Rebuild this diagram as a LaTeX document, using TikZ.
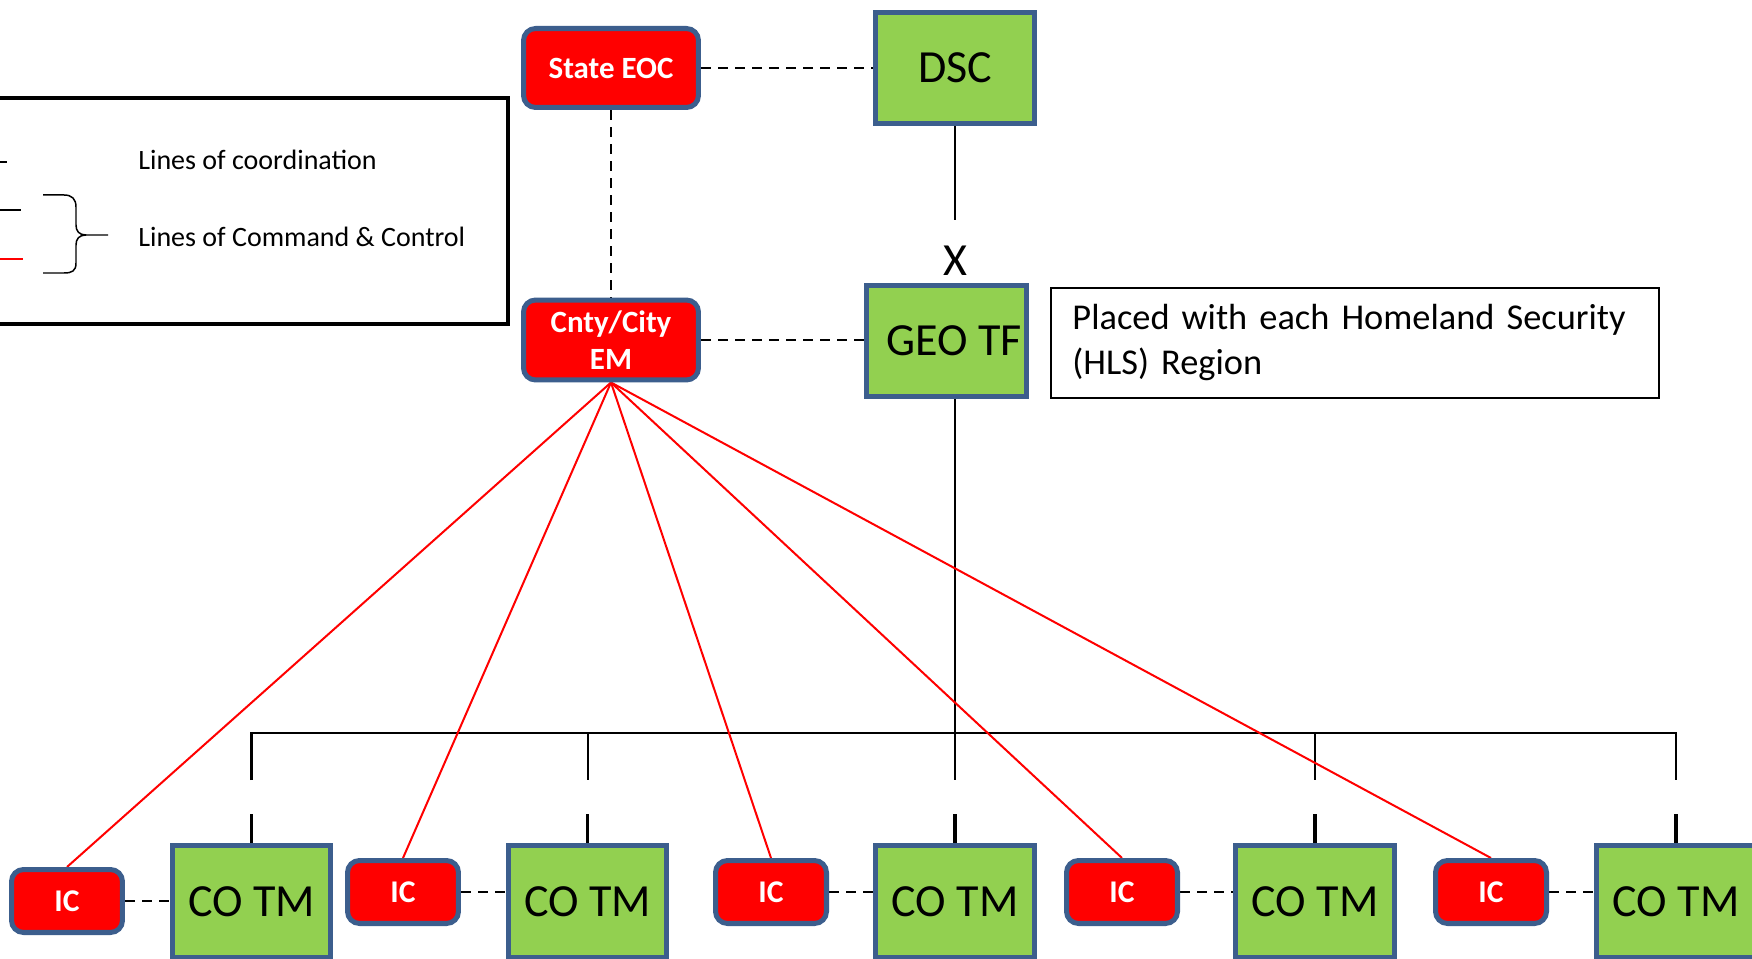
\documentclass[tikz,border=0pt]{standalone}
\usepackage{fontspec}
\setmainfont{Carlito}
\usetikzlibrary{backgrounds,calc}
\definecolor{boxred}{HTML}{FF0000}
\definecolor{boxgreen}{HTML}{92D050}
\definecolor{boxedge}{HTML}{3C5E8D}
\begin{document}
\begin{tikzpicture}[x=0.02cm, y=-0.02cm,
  redbox/.style={draw=boxedge, line width=2.85pt, fill=boxred, rounded corners=0.24cm, text=white, font=\bfseries\fontsize{17.6}{21}\selectfont, inner sep=0pt, align=center},
  greenbox/.style={draw=boxedge, line width=2.85pt, fill=boxgreen, inner sep=0pt, font=\fontsize{26.2}{32}\selectfont, minimum width=3.18cm, minimum height=2.24cm},
  icbox/.style={redbox, minimum width=2.22cm, minimum height=1.26cm, font=\bfseries\fontsize{18}{21}\selectfont},
  coordline/.style={dash pattern=on 5.7pt off 4pt, line width=1.42pt},
  cmdline/.style={line width=1.14pt},
  redcmd/.style={draw=red, line width=1.14pt},
  stubline/.style={line width=2pt},
]
\path[use as bounding box] (0,0) rectangle (1752,959);

% top nodes
\node[redbox, minimum width=3.5cm, minimum height=1.58cm] (eoc) at (611,68) {State EOC};
\node[redbox, minimum width=3.5cm, minimum height=1.6cm] (em) at (611,340) {Cnty/City\\EM};
\node[greenbox] (dsc) at (955,68) {DSC};
\node[greenbox, minimum width=3.2cm] (geo) at (946.5,341) {\hspace*{0.3cm}GEO TF};
\node[font=\fontsize{26.2}{32}\selectfont, inner sep=0pt] (xmark) at (955,261) {X};
\coordinate (xtop) at (955,220);

% note
\node[draw, line width=1.1pt, anchor=north west, minimum width=12.16cm, minimum height=2.2cm,
      text width=11.3cm, inner xsep=0.42cm, align=left,
      font=\fontsize{20.7}{25.6}\selectfont] (note) at (1050,287)
  {Placed with each Homeland Security\\(HLS) Region};

% legend
\node[draw, line width=2.56pt, minimum width=10.56cm, minimum height=4.52cm, inner sep=0pt] (legend) at (244,211) {};
\node[anchor=west, inner sep=0pt, font=\fontsize{15.94}{19}\selectfont] (leg1) at (138,160) {Lines of coordination};
\node[anchor=west, inner sep=0pt, font=\fontsize{15.94}{19}\selectfont] (leg2) at (138,237) {Lines of Command \& Control};
\draw[cmdline] (-10,162) -- (7,162);
\draw[cmdline] (-10,210) -- (21,210);
\draw[redcmd] (-10,259) -- (23,259);
\draw[line width=0.85pt] (43,195) -- (64,195) .. controls (72,195) and (76,199) .. (76,207) -- (76,225)
  .. controls (76,231) and (79,235) .. (86,235) -- (108,235);
\draw[line width=0.85pt] (86,235) .. controls (79,235) and (76,239) .. (76,245) -- (76,263)
  .. controls (76,271) and (72,273) .. (64,273) -- (43,273);

% bottom row
\node[icbox] (ic1) at (67,901) {IC};
\node[icbox] (ic2) at (403,892) {IC};
\node[icbox] (ic3) at (771,892) {IC};
\node[icbox] (ic4) at (1122,892) {IC};
\node[icbox] (ic5) at (1491,892) {IC};
\node[greenbox] (c1) at (251.5,901.5) {CO TM};
\node[greenbox] (c2) at (587.5,901.5) {CO TM};
\node[greenbox] (c3) at (955,901.5) {CO TM};
\node[greenbox] (c4) at (1315,901.5) {CO TM};
\node[greenbox] (c5) at (1676,901.5) {CO TM};

\coordinate (bary) at (0,733);
\coordinate (dropend) at (0,780);
\coordinate (stubtop) at (0,814);

\begin{scope}[on background layer]
  \fill[white] (0,0) rectangle (1752,959);
  % coordination (dashed)
  \draw[coordline] (eoc.east) -- (dsc.west);
  \draw[coordline] (eoc.south) -- (em.north);
  \draw[coordline] (em.east) -- (em.east -| geo.west);
  \foreach \i in {1,...,5} \draw[coordline] (ic\i.east) -- (ic\i.east -| c\i.west);
  % DSC to GEO TF
  \draw[cmdline] (dsc.south) -- (xtop);
  % bracket
  \draw[line width=1.42pt, line join=miter] (c1.north |- dropend) -- (c1.north |- bary) -- (c5.north |- bary) -- (c5.north |- dropend);
  \draw[cmdline] (c2.north |- bary) -- (c2.north |- dropend);
  \draw[cmdline] (c4.north |- bary) -- (c4.north |- dropend);
  \draw[cmdline] (geo.south -| c3.north) -- (c3.north |- dropend);
  \foreach \i in {1,...,5} \draw[stubline] (c\i.north) -- (c\i.north |- stubtop);
  % command & control (red)
  \foreach \i in {1,...,5} \draw[redcmd] (em.south) -- (ic\i.north);
\end{scope}
\end{tikzpicture}
\end{document}
